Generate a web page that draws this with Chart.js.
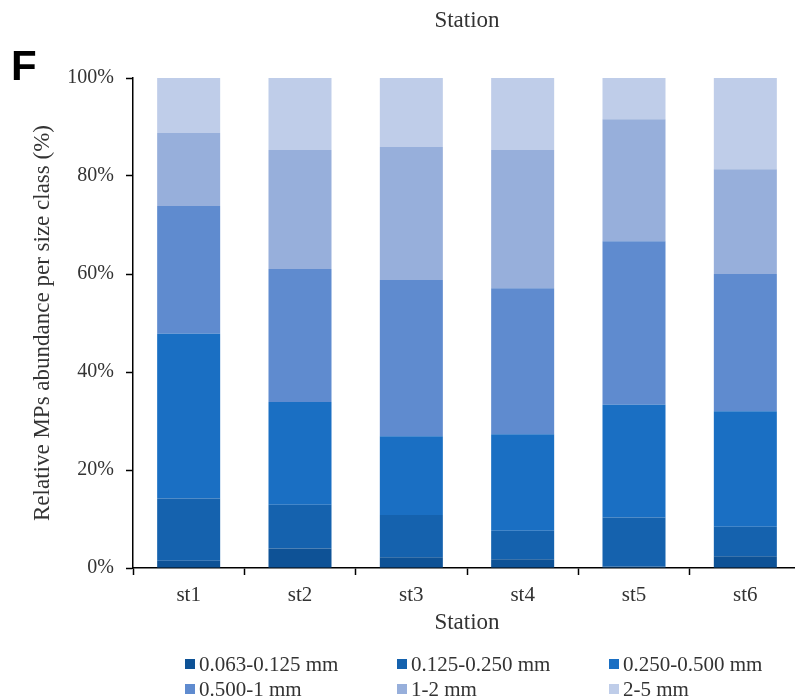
<!DOCTYPE html>
<html>
<head>
<meta charset="utf-8">
<script src="https://cdn.jsdelivr.net/npm/chart.js@4/dist/chart.umd.min.js"></script>
<style>
  html, body { margin: 0; padding: 0; background: #fff; overflow: hidden; }
  #wrap { position: absolute; left: 0; top: 0; width: 810px; height: 700px; }
</style>
</head>
<body>
<div id="wrap"><canvas id="c"></canvas></div>
<script>
// Relative abundance (%) of microplastics per size class at each station
const stations = ['st1', 'st2', 'st3', 'st4', 'st5', 'st6'];
const sizeClasses = ['0.063-0.125 mm', '0.125-0.250 mm', '0.250-0.500 mm', '0.500-1 mm', '1-2 mm', '2-5 mm'];
const s063_125 = [1.5, 4.0, 2.2, 1.8, 0.3, 2.4];
const s125_250 = [12.7, 8.9, 8.6, 5.8, 10.0, 6.0];
const s250_500 = [33.6, 21.0, 16.1, 19.7, 23.0, 23.6];
const s500_1 = [26.1, 27.1, 31.9, 29.8, 33.4, 28.0];
const s1_2 = [14.9, 24.3, 27.1, 28.2, 24.9, 21.4];
const s2_5 = [11.2, 14.7, 14.1, 14.7, 8.4, 18.6];
const yTicks = [0, 20, 40, 60, 80, 100];

const seriesValues = [s063_125, s125_250, s250_500, s500_1, s1_2, s2_5];
const colors = ['#0e5296', '#1562ae', '#1a6fc3', '#5f8bcf', '#97afdb', '#bfcde9'];

const SERIF = '"Liberation Serif", "DejaVu Serif", serif';
const TEXT = '#333333';

// Panel letter, top heading and a three-column legend
const decorations = {
  id: 'decorations',
  afterDraw(chart) {
    const ctx = chart.ctx;
    const area = chart.chartArea;
    ctx.save();
    ctx.fillStyle = '#000';
    ctx.font = 'bold 42px "Liberation Sans", Arial, sans-serif';
    ctx.textAlign = 'left';
    ctx.textBaseline = 'alphabetic';
    ctx.fillText('F', 11, 80);

    ctx.fillStyle = TEXT;
    ctx.font = '23px ' + SERIF;
    ctx.textAlign = 'center';
    ctx.textBaseline = 'middle';
    ctx.fillText('Station', (area.left + area.right) / 2, 21);

    const colX = [185, 397, 609];
    const rowY = [664, 689];
    ctx.font = '21px ' + SERIF;
    ctx.textAlign = 'left';
    chart.data.datasets.forEach((ds, i) => {
      const x = colX[i % 3];
      const y = rowY[Math.floor(i / 3)];
      ctx.fillStyle = ds.backgroundColor;
      ctx.fillRect(x, y - 5, 10, 10);
      ctx.fillStyle = TEXT;
      ctx.fillText(ds.label, x + 14, y + 1);
    });
    ctx.restore();
  }
};

new Chart(document.getElementById('c'), {
  type: 'bar',
  data: {
    labels: stations,
    datasets: sizeClasses.map((name, i) => ({
      label: name,
      data: seriesValues[i],
      backgroundColor: colors[i],
      borderWidth: 0,
      barPercentage: 0.566,
      categoryPercentage: 1.0
    }))
  },
  options: {
    responsive: true,
    maintainAspectRatio: false,
    animation: false,
    layout: { padding: { top: 78, right: 9, bottom: 0, left: 0 } },
    plugins: { legend: { display: false }, tooltip: { enabled: false } },
    scales: {
      x: {
        stacked: true,
        afterFit: s => { s.height = 132; },
        border: { color: '#000', width: 1.5 },
        grid: { display: true, offset: true, drawOnChartArea: false, drawTicks: true, tickLength: 7, tickColor: '#000', tickWidth: 1.5 },
        ticks: { color: TEXT, font: { family: SERIF, size: 21 }, padding: 8 },
        title: { display: true, text: 'Station', color: TEXT, font: { family: SERIF, size: 23 }, padding: { top: 0, bottom: 63 } }
      },
      y: {
        stacked: true,
        min: 0,
        max: 100,
        afterFit: s => { s.width = 133; },
        afterBuildTicks: s => { s.ticks = yTicks.map(v => ({ value: v })); },
        border: { color: '#000', width: 1.5 },
        grid: { display: true, drawOnChartArea: false, drawTicks: true, tickLength: 7, tickColor: '#000', tickWidth: 1.5 },
        ticks: { color: TEXT, font: { family: SERIF, size: 20 }, padding: 12, callback: v => v + '%' },
        title: { display: true, text: 'Relative MPs abundance per size class (%)', color: TEXT, font: { family: SERIF, size: 23 }, padding: { top: 29, bottom: 0 } }
      }
    }
  },
  plugins: [decorations]
});
</script>
</body>
</html>
